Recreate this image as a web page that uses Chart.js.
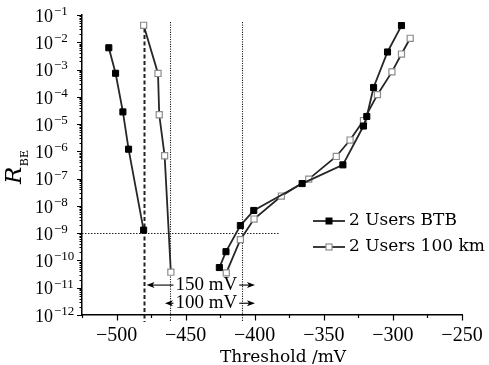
<!DOCTYPE html>
<html>
<head>
<meta charset="utf-8">
<script src="https://cdn.jsdelivr.net/npm/chart.js@4/dist/chart.umd.min.js"></script>
<style>
  html, body { margin: 0; padding: 0; background: #fff; }
  canvas { display: block; }
</style>
</head>
<body>
<canvas id="berChart" width="489" height="365"></canvas>
<script>
// values
const btbLeftX  = [-505.6, -500.7, -495.4, -491.3, -480.4];
const btbLeftY  = [6.3e-3, 7.3e-4, 2.8e-5, 1.2e-6, 1.3e-9];
const btbRightX = [-425.6, -420.8, -410.4, -400.7, -365.7, -336.2, -321.3, -318.9, -314.0, -303.9, -293.8];
const btbRightY = [5.5e-11, 2.1e-10, 1.9e-9, 6.8e-9, 6.6e-8, 3.2e-7, 8.5e-6, 1.9e-5, 2.2e-4, 4.4e-3, 4.1e-2];

const kmLeftX  = [-480.4, -470.0, -469.1, -465.2, -460.7];
const kmLeftY  = [4.2e-2, 7.2e-4, 2.2e-5, 6.9e-7, 3.7e-11];
const kmRightX = [-420.6, -410.4, -400.5, -380.7, -360.9, -341.0, -331.0, -321.3, -311.2, -300.7, -293.8, -287.5];
const kmRightY = [3.5e-11, 5.8e-10, 3.3e-9, 2.3e-8, 9.6e-8, 6.5e-7, 2.6e-6, 1.35e-5, 1.2e-4, 8.2e-4, 3.7e-3, 1.4e-2];

const seriesNames = ['2 Users BTB', '2 Users 100 km'];

const xTickValues = [-500, -450, -400, -350, -300, -250];
const yTickExps = [-12, -11, -10, -9, -8, -7, -6, -5, -4, -3, -2, -1];

// reference lines and the two spacing notes
const vLineX = [-480.4, -461.5, -409.2];
const vLineTop = 5.5e-2;
const hLineY = 1e-9;
const hLineEnd = -382;
const spanLabels = ['150 mV', '100 mV'];
const spanFrom = [-478.3, -465.0];
const spanTo = [-399.8, -399.8];
const spanY = [1.25e-11, 2.7e-12];
const spanTextX = -435;

function branches(lx, ly, rx, ry) {
    const pts = lx.map((x, i) => ({ x: x, y: ly[i] }));
    pts.push({ x: (lx[lx.length - 1] + rx[0]) / 2, y: null });
    return pts.concat(rx.map((x, i) => ({ x: x, y: ry[i] })));
}

const minus = '\u2212';
const LINE = '#262626';

const overlay = {
    id: 'overlay',
    beforeDatasetsDraw(chart) {
        const ctx = chart.ctx, xs = chart.scales.x, ys = chart.scales.y;
        const area = chart.chartArea;
        ctx.save();
        ctx.strokeStyle = '#222';
        vLineX.forEach((v, i) => {
            const px = Math.round(xs.getPixelForValue(v)) + 0.5;
            ctx.beginPath();
            if (i === 0) { ctx.setLineDash([4, 2.5]); ctx.lineWidth = 2; }
            else { ctx.setLineDash([1.2, 1.2]); ctx.lineWidth = 1.1; }
            ctx.moveTo(px, ys.getPixelForValue(vLineTop));
            ctx.lineTo(px, area.bottom + 7);
            ctx.stroke();
        });
        const py = Math.round(ys.getPixelForValue(hLineY)) + 0.5;
        ctx.setLineDash([1.5, 1.5]);
        ctx.lineWidth = 1.1;
        ctx.beginPath();
        ctx.moveTo(area.left, py);
        ctx.lineTo(xs.getPixelForValue(hLineEnd), py);
        ctx.stroke();
        ctx.restore();
    },
    afterDraw(chart) {
        const ctx = chart.ctx, xs = chart.scales.x, ys = chart.scales.y;
        const area = chart.chartArea;
        ctx.save();
        ctx.strokeStyle = '#000';
        ctx.fillStyle = '#000';
        ctx.lineWidth = 1.2;

        // tick marks, outward
        ctx.beginPath();
        for (let v = -525; v <= -250; v += 25) {
            const px = Math.round(xs.getPixelForValue(v)) + 0.5;
            const len = (v % 50 === 0) ? 5.5 : 3;
            ctx.moveTo(px, area.bottom);
            ctx.lineTo(px, area.bottom + len);
        }
        yTickExps.forEach(e => {
            const py = Math.round(ys.getPixelForValue(Math.pow(10, e))) + 0.5;
            ctx.moveTo(area.left, py);
            ctx.lineTo(area.left - 5, py);
            if (e < -1) {
                for (let m = 2; m <= 9; m++) {
                    const pm = Math.round(ys.getPixelForValue(m * Math.pow(10, e))) + 0.5;
                    ctx.moveTo(area.left, pm);
                    ctx.lineTo(area.left - 2.5, pm);
                }
            }
        });
        ctx.stroke();

        // y tick labels 10^n
        ctx.textAlign = 'left';
        ctx.textBaseline = 'middle';
        yTickExps.forEach(e => {
            const py = ys.getPixelForValue(Math.pow(10, e));
            ctx.font = '18px "Liberation Serif"';
            ctx.fillText('10', 35, py + 2);
            const w = ctx.measureText('10').width;
            ctx.font = '13px "Liberation Serif"';
            ctx.fillText(minus + Math.abs(e), 35 + w + 1, py - 3.5);
        });

        // y title R_BE
        ctx.save();
        ctx.translate(21, 184);
        ctx.rotate(-Math.PI / 2);
        ctx.textBaseline = 'alphabetic';
        ctx.font = 'italic 23px "DejaVu Serif"';
        ctx.fillText('R', 0, 0);
        const rw = ctx.measureText('R').width;
        ctx.font = '11px "DejaVu Serif"';
        ctx.fillText('BE', rw + 0.5, 7);
        ctx.restore();

        // x title
        ctx.textAlign = 'center';
        ctx.textBaseline = 'alphabetic';
        ctx.font = '17px "DejaVu Serif"';
        ctx.fillText('Threshold /mV', 283, 361.5);

        // spacing notes with arrows
        ctx.font = '19px "Liberation Serif"';
        const tx = xs.getPixelForValue(spanTextX);
        spanLabels.forEach((label, i) => {
            const py = ys.getPixelForValue(spanY[i]);
            const w = ctx.measureText(label).width;
            ctx.textBaseline = 'middle';
            ctx.fillText(label, tx, py);
            arrow(ctx, tx - w / 2 - 2, xs.getPixelForValue(spanFrom[i]), py);
            arrow(ctx, tx + w / 2 + 2, xs.getPixelForValue(spanTo[i]), py);
        });

        // legend
        const rows = [221, 247];
        chart.data.datasets.forEach((ds, i) => {
            const py = rows[i];
            ctx.strokeStyle = ds.borderColor;
            ctx.lineWidth = 1.8;
            ctx.beginPath();
            ctx.moveTo(313, py);
            ctx.lineTo(345, py);
            ctx.stroke();
            ctx.fillStyle = ds.pointBackgroundColor;
            ctx.strokeStyle = ds.pointBorderColor;
            ctx.lineWidth = ds.pointBorderWidth;
            ctx.fillRect(326, py - 3, 6, 6);
            ctx.strokeRect(326, py - 3, 6, 6);
            ctx.fillStyle = '#000';
            ctx.textAlign = 'left';
            ctx.textBaseline = 'middle';
            ctx.font = '17px "DejaVu Serif"';
            ctx.fillText(seriesNames[i], 349, py);
        });
        ctx.restore();
    }
};

function arrow(ctx, x1, x2, y) {
    const dir = x2 > x1 ? 1 : -1;
    ctx.save();
    ctx.strokeStyle = '#000';
    ctx.fillStyle = '#000';
    ctx.lineWidth = 1.1;
    ctx.beginPath();
    ctx.moveTo(x1, y);
    ctx.lineTo(x2 - dir * 3, y);
    ctx.stroke();
    ctx.beginPath();
    ctx.moveTo(x2, y);
    ctx.lineTo(x2 - dir * 8, y - 3);
    ctx.lineTo(x2 - dir * 6, y);
    ctx.lineTo(x2 - dir * 8, y + 3);
    ctx.closePath();
    ctx.fill();
    ctx.restore();
}

function initializeChart() {
    const canvas = document.getElementById('berChart');
    if (!canvas) {
        console.error('Cannot find chart canvas');
        return;
    }

    const btbData = {
        label: seriesNames[0],
        data: branches(btbLeftX, btbLeftY, btbRightX, btbRightY),
        borderColor: LINE,
        borderWidth: 1.8,
        pointStyle: 'rect',
        pointRadius: 4.3,
        pointBackgroundColor: '#000',
        pointBorderColor: '#000',
        pointBorderWidth: 1,
        spanGaps: false,
        tension: 0
    };

    const kmData = {
        label: seriesNames[1],
        data: branches(kmLeftX, kmLeftY, kmRightX, kmRightY),
        borderColor: LINE,
        borderWidth: 1.8,
        pointStyle: 'rect',
        pointRadius: 4.3,
        pointBackgroundColor: '#fff',
        pointBorderColor: '#8c8c8c',
        pointBorderWidth: 1.2,
        spanGaps: false,
        tension: 0
    };

    new Chart(canvas, {
        type: 'line',
        data: { datasets: [btbData, kmData] },
        plugins: [overlay],
        options: {
            responsive: false,
            animation: false,
            devicePixelRatio: 1,
            layout: { padding: { left: 0, right: 27, top: 15, bottom: 0 } },
            plugins: {
                legend: { display: false },
                tooltip: { enabled: false }
            },
            scales: {
                x: {
                    type: 'linear',
                    min: -525,
                    max: -250,
                    grid: { display: false, drawTicks: false },
                    border: { display: true, color: '#000', width: 1.5 },
                    ticks: {
                        color: '#000',
                        font: { family: 'Liberation Serif', size: 20 },
                        padding: 9,
                        autoSkip: false,
                        maxRotation: 0,
                        minRotation: 0,
                        callback: v => (v < 0 ? minus : '') + Math.abs(v)
                    },
                    afterBuildTicks: s => { s.ticks = xTickValues.map(v => ({ value: v })); },
                    afterFit: s => { s.height = 50; s.paddingLeft = 0; s.paddingRight = 0; }
                },
                y: {
                    type: 'logarithmic',
                    min: 1e-12,
                    max: 1e-1,
                    grid: { display: false, drawTicks: false },
                    border: { display: true, color: '#000', width: 1.5 },
                    ticks: { display: false },
                    afterFit: s => { s.width = 82; s.paddingTop = 0; s.paddingBottom = 0; }
                }
            }
        }
    });
}

document.addEventListener('DOMContentLoaded', initializeChart);
</script>
</body>
</html>
